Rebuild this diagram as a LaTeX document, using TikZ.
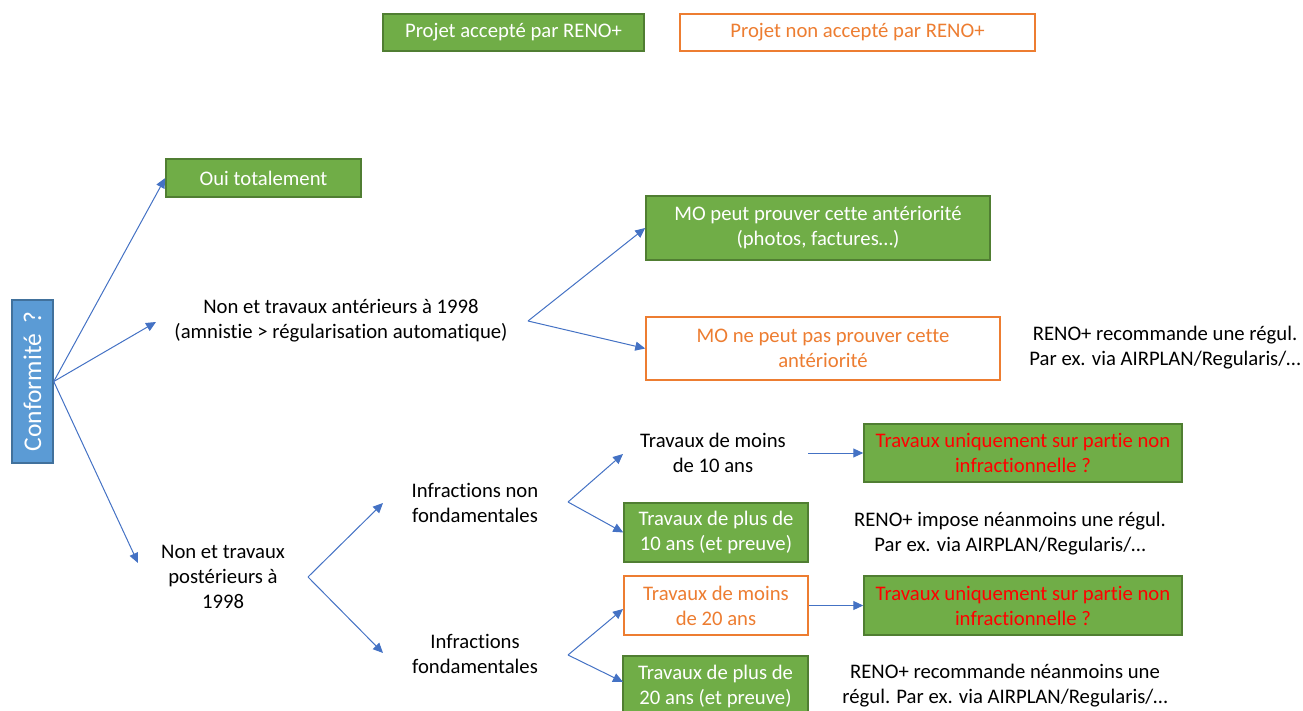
\documentclass[tikz,border=0pt]{standalone}
\usepackage{fontspec}
\setmainfont{Carlito}[Ligatures=NoCommon]
\usetikzlibrary{arrows.meta}
\definecolor{okgreen}{HTML}{70AD47}
\definecolor{okedge}{HTML}{507E32}
\definecolor{noorange}{HTML}{ED7D31}
\definecolor{confblue}{HTML}{5B9BD5}
\definecolor{confedge}{HTML}{41719C}
\definecolor{arrowblue}{HTML}{4472C4}
\definecolor{txtred}{HTML}{FF0000}
\begin{document}
\begin{tikzpicture}[x=1pt,y=-1pt,
  every node/.style={font=\fontsize{20.7}{25}\selectfont, align=center, inner sep=0pt},
  okbox/.style={draw=okedge, fill=okgreen, line width=1.5pt, text=white},
  nobox/.style={draw=noorange, fill=white, line width=1.5pt, text=noorange},
  confbox/.style={draw=confedge, fill=confblue, line width=1.5pt},
  plaintext/.style={text=black},
  link/.style={draw=arrowblue, line width=1pt, -{Triangle[length=10pt,width=9pt]}}
]
\useasboundingbox (0,0) rectangle (1303,711);

% legend
\node[okbox, minimum width=261, minimum height=37] (leg1) at (513.5,32.5) {Projet accepté par RENO+};
\node[nobox, minimum width=355, minimum height=37] (leg2) at (857.5,32.5) {Projet non accepté par RENO+};

% root
\node[confbox, minimum width=41, minimum height=163] (conf) at (32.5,381.5) {};
\node[rotate=90, text=white, font=\fontsize{25.5}{30}\selectfont] (conflabel) at (conf.center) {Conformité\hspace{0.4em}?};

% level 1
\node[okbox, minimum width=195, minimum height=38] (oui) at (263.5,178) {Oui totalement};
\node[plaintext] (ante) at (341,320.5) {Non et travaux antérieurs à 1998\\(amnistie > régularisation automatique)};
\node[plaintext] (post) at (223,577) {Non et travaux\\postérieurs à\\1998};

% anteriority branch
\node[okbox, minimum width=344, minimum height=64] (mo1) at (818,228) {MO peut prouver cette antériorité\\(photos, factures…)};
\node[nobox, minimum width=354, minimum height=63] (mo2) at (823,348.5) {MO ne peut pas prouver cette\\antériorité};
\node[plaintext] (reco1) at (1165,347.5) {RENO+ recommande une régul.\\Par ex. via AIRPLAN/Regularis/…};

% posterior branch
\node[plaintext] (infnf) at (475,502.5) {Infractions non\\fondamentales};
\node[plaintext] (inff) at (475,653.5) {Infractions\\fondamentales};

\node[plaintext] (m10) at (713,453) {Travaux de moins\\de 10 ans};
\node[okbox, minimum width=318, minimum height=58, text=txtred] (tu1) at (1023,453) {Travaux uniquement sur partie non\\infractionnelle ?};
\node[okbox, minimum width=184, minimum height=59] (p10) at (716,532.5) {Travaux de plus de\\10 ans (et preuve)};
\node[plaintext] (impose) at (1010,533.5) {RENO+ impose néanmoins une régul.\\Par ex. via AIRPLAN/Regularis/…};

\node[nobox, minimum width=184, minimum height=59] (m20) at (716,605.5) {Travaux de moins\\de 20 ans};
\node[okbox, minimum width=318, minimum height=59, text=txtred] (tu2) at (1023,605.5) {Travaux uniquement sur partie non\\infractionnelle ?};
\node[okbox, minimum width=185, minimum height=60] (p20) at (715.5,686) {Travaux de plus de\\20 ans (et preuve)};
\node[plaintext] (reco2) at (1005,685.5) {RENO+ recommande néanmoins une\\régul. Par ex. via AIRPLAN/Regularis/…};

% connector points
\coordinate (tAnte) at (156,322);
\coordinate (tPost) at (138,563);
\coordinate (fAnte) at (528,321);
\coordinate (fPost) at (308,577);
\coordinate (tInfnf) at (383,503);
\coordinate (tInff) at (383,653);
\coordinate (fInfnf) at (568,502);
\coordinate (fInff) at (568,655);
\coordinate (tM10) at (623,454);
\coordinate (tM20) at (623,609);
\coordinate (tP20) at (623,682);
\coordinate (sM10) at (808,453);

% connectors
\draw[link] (conf.east) -- (oui.west);
\draw[link] (conf.east) -- (tAnte);
\draw[link] (conf.east) -- (tPost);
\draw[link] (fAnte) -- (mo1.west);
\draw[link] (fAnte) -- (mo2.west);
\draw[link] (fPost) -- (tInfnf);
\draw[link] (fPost) -- (tInff);
\draw[link] (fInfnf) -- (tM10);
\draw[link] (fInfnf) -- (p10.west);
\draw[link] (fInff) -- (tM20);
\draw[link] (fInff) -- (tP20);
\draw[link] (sM10) -- (tu1.west);
\draw[link] (m20.east) -- (tu2.west);
\end{tikzpicture}
\end{document}
